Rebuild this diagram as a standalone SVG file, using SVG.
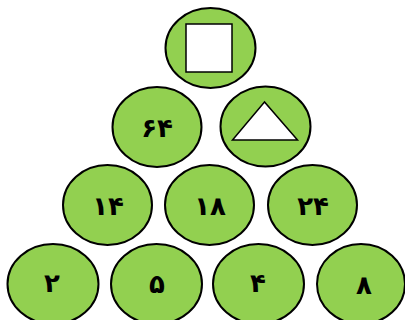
<svg xmlns="http://www.w3.org/2000/svg" width="405" height="320" viewBox="0 0 405 320">
<style>
.n{fill:#92D050;stroke:#000;stroke-width:2}
.s{fill:#fff;stroke:#000;stroke-width:1.5}
.t{font-family:"DejaVu Sans","Noto Sans",sans-serif;font-weight:bold;font-size:26px;text-anchor:middle;dominant-baseline:central;fill:#000;letter-spacing:1px}
</style>
<rect width="405" height="320" fill="#fff"/>
<g id="top"><ellipse class="n" cx="210.5" cy="48" rx="45" ry="40"/><rect class="s" x="186" y="24" width="46" height="48"/></g>
<g id="n64"><ellipse class="n" cx="157" cy="127" rx="44.5" ry="40"/><text class="t" x="157" y="128">۶۴</text></g>
<g id="tri"><ellipse class="n" cx="265.5" cy="126.5" rx="45" ry="40"/><polygon class="s" points="264.5,102 232.5,140 297.5,140"/></g>
<g id="n14"><ellipse class="n" cx="107.5" cy="205" rx="44.5" ry="40"/><text class="t" x="108" y="206">۱۴</text></g>
<g id="n18"><ellipse class="n" cx="209.5" cy="205" rx="44.5" ry="40"/><text class="t" x="210" y="206">۱۸</text></g>
<g id="n24"><ellipse class="n" cx="312.5" cy="205" rx="44.5" ry="40"/><text class="t" x="313" y="206">۲۴</text></g>
<g id="n2"><ellipse class="n" cx="53" cy="284" rx="45.5" ry="40"/><text class="t" x="52" y="283">۲</text></g>
<g id="n5"><ellipse class="n" cx="156.5" cy="284" rx="45.5" ry="40"/><text class="t" x="157" y="284">۵</text></g>
<g id="n4"><ellipse class="n" cx="258.5" cy="284" rx="45.5" ry="40"/><text class="t" x="258" y="283">۴</text></g>
<g id="n8"><ellipse class="n" cx="361" cy="284" rx="44" ry="40"/><text class="t" x="364" y="285">۸</text></g>
<g id="connectors"></g>
</svg>
